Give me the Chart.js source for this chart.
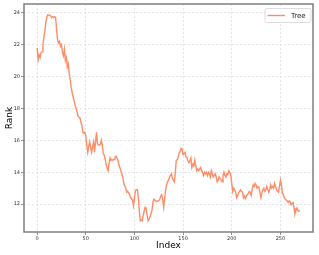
<!DOCTYPE html>
<html>
<head>
<meta charset="utf-8">
<script src="https://cdn.jsdelivr.net/npm/chart.js@4.4.1/dist/chart.umd.min.js"></script>
<style>
  html, body { margin: 0; padding: 0; background: #fff; }
  #wrap { width: 319px; height: 255px; }
</style>
</head>
<body>
<div id="wrap"><canvas id="rankChart" width="319" height="255"></canvas></div>
<script>
// Rank of the "Tree" series at each index
const treeRank = [
  21.8, 21.05, 21.35, 21.2, 21.5, 21.55, 22.0, 22.5, 22.9, 23.4,
  23.75, 23.87, 23.85, 23.85, 23.8, 23.7, 23.75, 23.7, 23.75, 23.7,
  22.9, 22.3, 22.1, 22.2, 21.9, 22.0, 21.5, 21.3, 21.7, 21.0,
  21.2, 20.6, 20.8, 20.2, 19.8, 19.3, 19.0, 18.7, 18.5, 18.2,
  18.0, 17.8, 17.5, 17.45, 17.4, 17.15, 16.95, 16.5, 16.45, 16.5,
  16.3, 15.7, 15.25, 15.6, 15.9, 15.55, 15.25, 15.6, 15.9, 15.25,
  15.9, 16.5, 15.8, 15.7, 15.7, 15.75, 16.0, 15.7, 15.2, 15.05,
  14.8, 14.45, 14.25, 14.1, 14.6, 14.9, 14.75, 14.8, 14.75, 14.8,
  14.95, 15.0, 14.9, 14.75, 14.45, 14.3, 14.1, 13.9, 13.7, 13.3,
  13.15, 13.0, 12.75, 12.8, 12.7, 12.6, 12.4, 12.35, 12.25, 11.9,
  12.4, 12.85, 12.9, 12.9, 12.4, 11.6, 10.95, 11.0, 10.95, 11.3,
  11.55, 11.8, 11.75, 11.3, 10.95, 11.05, 11.2, 11.2, 11.6, 12.1,
  12.3, 12.25, 12.2, 12.15, 12.2, 12.2, 12.3, 12.5, 12.6, 12.3,
  11.8, 12.3, 12.9, 13.2, 13.4, 13.5, 13.7, 13.8, 13.9, 13.6,
  13.5, 13.4, 14.0, 14.75, 14.8, 14.95, 15.2, 15.3, 15.5, 15.45,
  15.1, 15.15, 15.25, 14.95, 14.9, 14.7, 14.6, 14.75, 14.9, 14.3,
  14.5, 14.4, 14.75, 14.4, 14.1, 14.2, 14.1, 14.2, 14.3, 14.1,
  14.0, 13.8, 14.0, 13.9, 14.0, 13.8, 14.0, 13.9, 13.7, 14.1,
  13.9, 13.7, 13.8, 13.9, 13.7, 13.4, 13.5, 13.7, 13.6, 13.55,
  13.4, 13.8, 14.0, 13.8, 13.7, 13.9, 13.85, 14.1, 14.0, 13.8,
  13.3, 12.8, 13.0, 12.9, 12.75, 12.4, 12.5, 12.7, 12.8, 12.9,
  12.8, 12.75, 12.4, 12.5, 12.35, 12.5, 12.6, 12.65, 12.8, 12.75,
  12.55, 12.9, 13.2, 13.1, 13.3, 13.2, 13.0, 13.1, 13.0, 12.7,
  12.4, 12.7, 12.9, 13.0, 12.8, 12.9, 13.1, 12.9, 12.75, 12.9,
  13.2, 13.0, 13.1, 13.0, 13.3, 13.1, 12.9, 12.8, 12.75, 13.1,
  13.5, 13.2, 12.7, 12.6, 12.4, 12.3, 12.25, 12.2, 12.1, 12.2,
  12.15, 11.95, 12.05, 12.1, 11.75, 11.4, 11.6, 11.75, 11.6, 11.55,
  11.6
];

const xTicks = [0, 50, 100, 150, 200, 250];
const yTicks = [12, 14, 16, 18, 20, 22, 24];
const seriesName = 'Tree';

const lineColor = '#ff8c66';
const frameColor = '#7f7f7f';
const gridColor = '#dedede';
const tickFont = { family: 'DejaVu Sans', size: 5 };
const titleFont = { family: 'DejaVu Sans', size: 9 };

// axes frame on all four sides, plus a boxed legend in the upper right corner
const framePlugin = {
  id: 'frame',
  afterDraw(chart) {
    const { ctx, chartArea: a } = chart;
    ctx.save();
    ctx.strokeStyle = frameColor;
    ctx.lineWidth = 1.5;
    ctx.strokeRect(a.left, a.top, a.right - a.left, a.bottom - a.top);

    // legend box, anchored to the top right of the plot area
    const ds = chart.data.datasets[0];
    const bx = a.right - 48, by = a.top + 4.5, bw = 46, bh = 14;
    ctx.beginPath();
    ctx.roundRect(bx, by, bw, bh, 2);
    ctx.fillStyle = 'rgba(255,255,255,0.9)';
    ctx.fill();
    ctx.strokeStyle = '#d4d4d4';
    ctx.lineWidth = 0.8;
    ctx.stroke();

    const cy = by + bh / 2;
    ctx.beginPath();
    ctx.moveTo(bx + 2.5, cy);
    ctx.lineTo(bx + 20, cy);
    ctx.strokeStyle = ds.borderColor;
    ctx.lineWidth = ds.borderWidth;
    ctx.stroke();

    ctx.font = '7px "DejaVu Sans"';
    ctx.fillStyle = '#222';
    ctx.textBaseline = 'middle';
    ctx.textAlign = 'left';
    ctx.fillText(ds.label, bx + 26, cy + 0.5);
    ctx.restore();
  }
};

new Chart(document.getElementById('rankChart'), {
  type: 'line',
  data: {
    datasets: [{
      label: seriesName,
      data: treeRank.map((v, i) => ({ x: i, y: v })),
      borderColor: lineColor,
      backgroundColor: lineColor,
      borderWidth: 1.4,
      pointRadius: 0,
      tension: 0,
      fill: false
    }]
  },
  options: {
    responsive: false,
    animation: false,
    devicePixelRatio: 1,
    layout: { padding: { top: 4, right: 6, left: 0, bottom: 0 } },
    scales: {
      x: {
        type: 'linear',
        min: -13.5,
        max: 283.5,
        afterBuildTicks: s => { s.ticks = xTicks.map(v => ({ value: v })); },
        afterFit: s => { s.height = 23; s.paddingLeft = 0; s.paddingRight = 0; },
        ticks: { font: tickFont, color: '#333', padding: 1, maxRotation: 0, autoSkip: false },
        grid: { color: gridColor, lineWidth: 0.8, tickLength: 3, tickColor: '#777' },
        border: { display: false, dash: [2, 2] },
        title: { display: true, text: 'Index', font: titleFont, color: '#000', padding: { top: 0, bottom: 4 } }
      },
      y: {
        min: 10.25,
        max: 24.55,
        afterBuildTicks: s => { s.ticks = yTicks.map(v => ({ value: v })); },
        afterFit: s => { s.width = 24; s.paddingTop = 0; s.paddingBottom = 0; },
        ticks: { font: tickFont, color: '#333', padding: 1 },
        grid: { color: gridColor, lineWidth: 0.8, tickLength: 3, tickColor: '#777' },
        border: { display: false, dash: [2, 2] },
        title: { display: true, text: 'Rank', font: titleFont, color: '#000', padding: { top: 4, bottom: 0 } }
      }
    },
    plugins: {
      legend: { display: false },
      tooltip: { enabled: false }
    }
  },
  plugins: [framePlugin]
});
</script>
</body>
</html>
